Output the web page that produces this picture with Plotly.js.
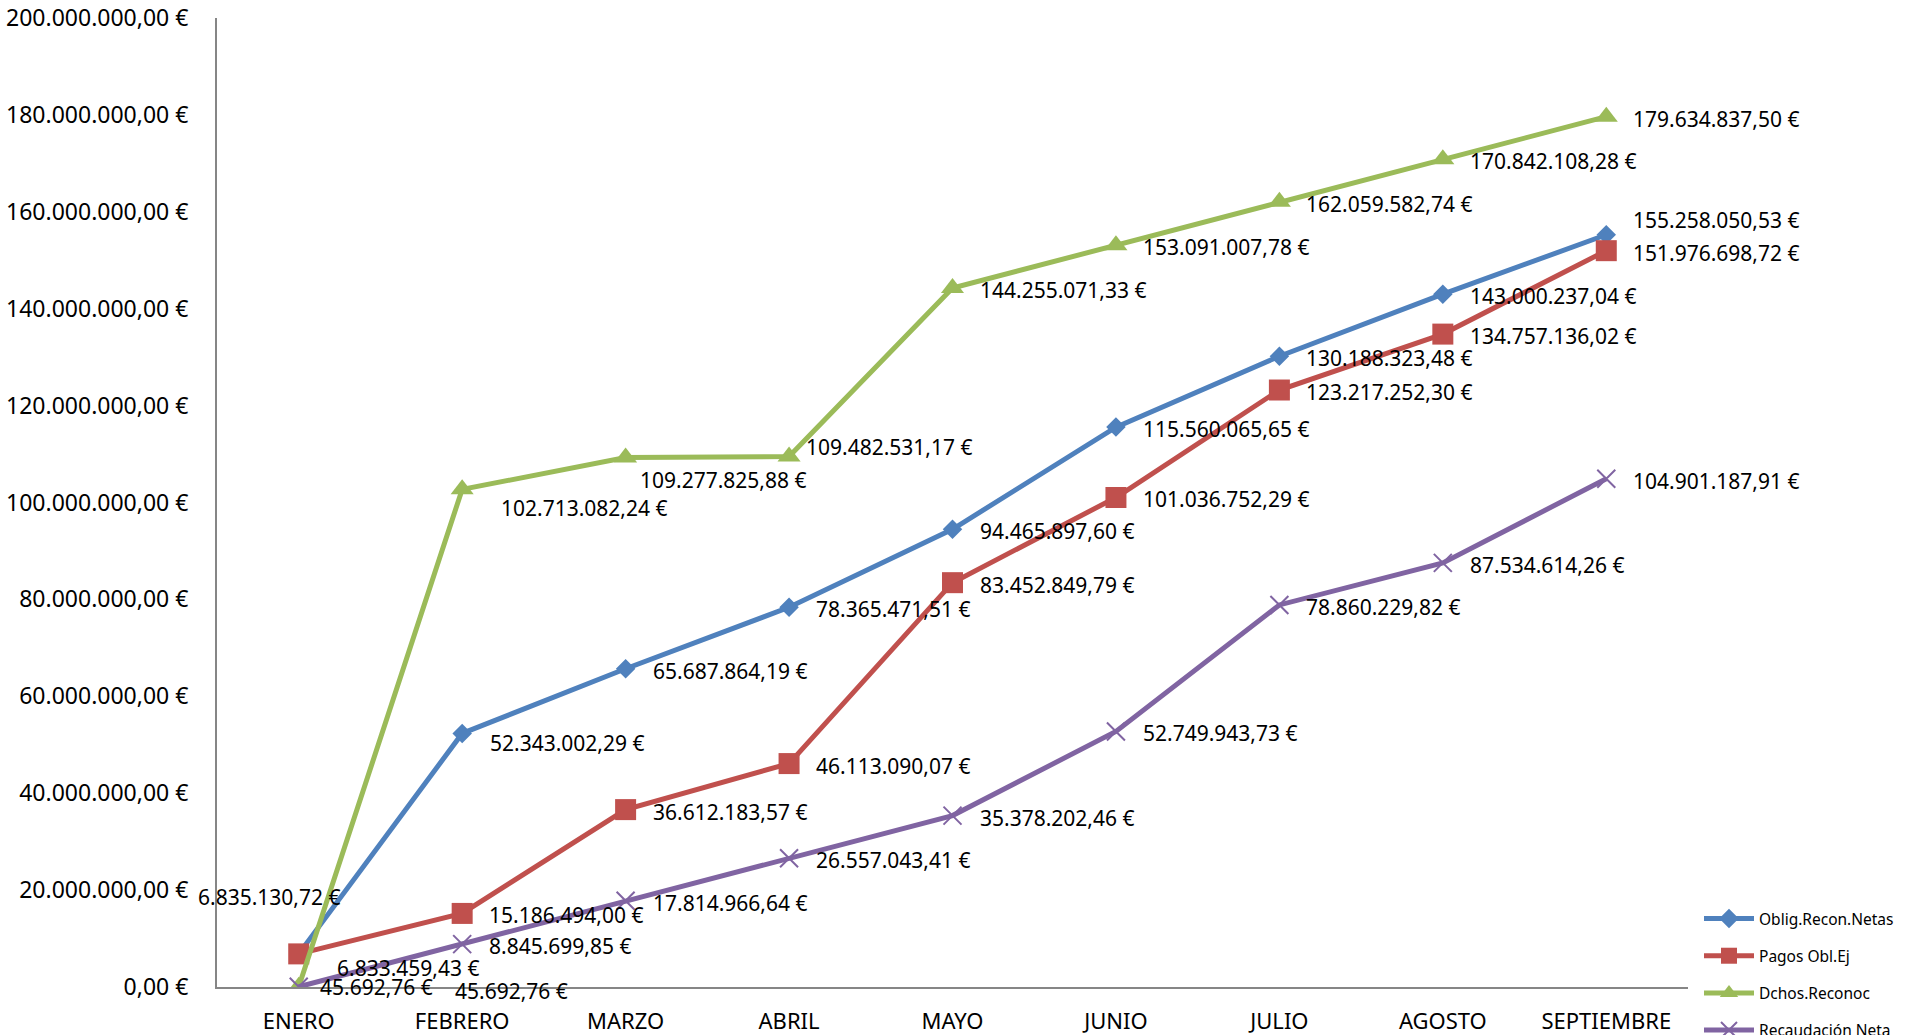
<!DOCTYPE html>
<html>
<head>
<meta charset="utf-8">
<script src="https://cdn.plot.ly/plotly-3.0.1.min.js"></script>
<style>
  html, body { margin: 0; padding: 0; background: #ffffff; }
  #chart { width: 1907px; height: 1035px; }
</style>
</head>
<body>
<div id="chart"></div>
<script>
// ---- Data ----
const categories = ['ENERO', 'FEBRERO', 'MARZO', 'ABRIL', 'MAYO', 'JUNIO', 'JULIO', 'AGOSTO', 'SEPTIEMBRE'];
const seriesNames = ['Oblig.Recon.Netas', 'Pagos Obl.Ej', 'Dchos.Reconoc', 'Recaudación Neta'];
const obligReconNetas = [6835130.72, 52343002.29, 65687864.19, 78365471.51, 94465897.60, 115560065.65, 130188323.48, 143000237.04, 155258050.53];
const pagosOblEj = [6833459.43, 15186494.00, 36612183.57, 46113090.07, 83452849.79, 101036752.29, 123217252.30, 134757136.02, 151976698.72];
const dchosReconoc = [45692.76, 102713082.24, 109277825.88, 109482531.17, 144255071.33, 153091007.78, 162059582.74, 170842108.28, 179634837.50];
const recaudacionNeta = [45692.76, 8845699.85, 17814966.64, 26557043.41, 35378202.46, 52749943.73, 78860229.82, 87534614.26, 104901187.91];
const yTickValues = [0, 20000000, 40000000, 60000000, 80000000, 100000000, 120000000, 140000000, 160000000, 180000000, 200000000];

// ---- Label placement (pixel offsets from each point) ----
const D = 25, DY = -2;
const labelShiftX = [
  [-103, 26, D, D, D, D, D, D, D],
  [36, D, D, D, D, D, D, D, D],
  [154, 37, 12, 15, D, D, D, D, D],
  [19, D, D, D, D, D, D, D, D]
];
const labelShiftY = [
  [57, -10, DY, DY, DY, DY, DY, DY, 15],
  [-14, DY, DY, DY, DY, DY, DY, DY, DY],
  [-4, -19, -22, 10, DY, DY, DY, DY, DY],
  [0, DY, DY, DY, DY, DY, DY, DY, DY]
];

const colors = ['#4F81BD', '#C0504D', '#9BBB59', '#8064A2'];
const symbols = ['diamond', 'square', 'triangle-up', 'x-thin'];
const sizes = [15, 21, 20, 18];
const allSeries = [obligReconNetas, pagosOblEj, dchosReconoc, recaudacionNeta];

function fmtEuro(v) {
  const parts = v.toFixed(2).split('.');
  const intPart = parts[0].replace(/\B(?=(\d{3})+(?!\d))/g, '.');
  return intPart + ',' + parts[1] + ' €';
}

const FONT = 'Noto Sans, Open Sans, sans-serif';

const traces = allSeries.map((vals, i) => ({
  type: 'scatter',
  mode: 'lines+markers',
  name: seriesNames[i],
  legendgroup: 'g' + i,
  x: categories,
  y: vals,
  line: { color: colors[i], width: 5 },
  marker: symbols[i] === 'x-thin'
    ? { symbol: 'x-thin', size: sizes[i], color: colors[i], line: { color: colors[i], width: 2 } }
    : { symbol: symbols[i], size: sizes[i], color: colors[i], line: { width: 0 } },
  hoverinfo: 'x+y+name'
}));

const annotations = [];
allSeries.forEach((vals, i) => {
  vals.forEach((v, j) => {
    annotations.push({
      x: categories[j], y: v, xref: 'x', yref: 'y',
      text: fmtEuro(v), showarrow: false,
      xanchor: 'left', yanchor: 'middle',
      xshift: labelShiftX[i][j], yshift: labelShiftY[i][j],
      font: { family: FONT, size: 21, color: '#000000' }
    });
  });
});

const layout = {
  width: 1907, height: 1035,
  margin: { l: 217, r: 219, t: 18, b: 48 },
  paper_bgcolor: '#ffffff', plot_bgcolor: '#ffffff',
  showlegend: true,
  legend: {
    xref: 'container', yref: 'container',
    x: 1699 / 1907, y: 1 - 902 / 1035,
    xanchor: 'left', yanchor: 'top',
    font: { family: FONT, size: 15.5, color: '#000000' },
    tracegroupgap: 14,
    itemwidth: 50,
    bgcolor: 'rgba(0,0,0,0)'
  },
  xaxis: {
    type: 'category',
    range: [-0.5, 8.5],
    showline: true, linecolor: '#868686', linewidth: 2,
    showgrid: false, zeroline: false,
    ticks: '', ticklabelstandoff: 14,
    tickfont: { family: FONT, size: 22, color: '#000000' },
    fixedrange: true
  },
  yaxis: {
    range: [0, 200000000],
    tickmode: 'array',
    tickvals: yTickValues,
    ticktext: yTickValues.map(fmtEuro),
    showline: true, linecolor: '#868686', linewidth: 2,
    showgrid: false, zeroline: false,
    ticks: '', ticklabelstandoff: 22,
    tickfont: { family: FONT, size: 23, color: '#000000' },
    fixedrange: true
  },
  annotations: annotations
};

Plotly.newPlot('chart', traces, layout, { displayModeBar: false, staticPlot: true });
</script>
</body>
</html>
